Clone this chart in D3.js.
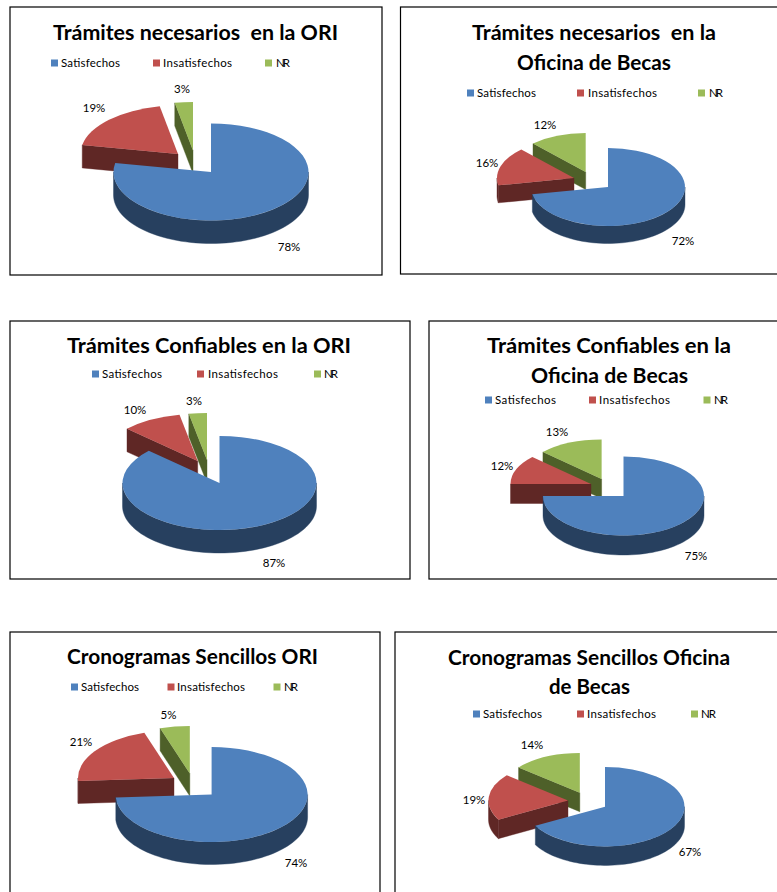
<!DOCTYPE html>
<html lang="es">
<head>
<meta charset="utf-8">
<script src="https://cdn.jsdelivr.net/npm/d3@7/dist/d3.min.js"></script>
<style>
html,body{margin:0;padding:0;background:#fff;overflow:hidden}
svg{display:block}
text{font-family:Lato,Carlito,"Open Sans",sans-serif;fill:#000}
</style>
</head>
<body>
<svg id="c" width="777" height="892"></svg>
<script>
// ---- data ----
const categories = ["Satisfechos", "Insatisfechos", "NR"];
const chartTitles = [
  ["Trámites necesarios  en la ORI"],
  ["Trámites necesarios  en la", "Oficina de Becas"],
  ["Trámites Confiables en la ORI"],
  ["Trámites Confiables en la", "Oficina de Becas"],
  ["Cronogramas Sencillos ORI"],
  ["Cronogramas Sencillos Oficina", "de Becas"]
];
const satisfechos   = [78, 72, 87, 75, 74, 67];
const insatisfechos = [19, 16, 10, 12, 21, 19];
const nr            = [ 3, 12,  3, 13,  5, 14];

// ---- styling and page layout ----
const topColors  = ["#4F81BD", "#C0504D", "#9BBB59"];
const sideColors = ["#27405F", "#5F2725", "#4E6029"];

const layout = [
  { box:[10,7,372,268], rx:97.5, ry:48.5, depth:23,
    apex:[[211,172],[178,154],[193,150.5]],
    title:[[53,338,32]],
    legend:{y:63, swatch:[51,153,265], text:[[61,59],[163,69],[276,14]]},
    labels:[[289,247],[94,108],[182,89]] },
  { box:[400.5,7,400,267], rx:77, ry:39, depth:17.5,
    apex:[[608,187],[574,178],[585.7,172]],
    title:[[472,716,32],[517,671,62]],
    legend:{y:93, swatch:[467,577,698], text:[[477,59],[588,69],[709,14]]},
    labels:[[683,241],[487,163],[545,125]] },
  { box:[10,321,400,258], rx:97, ry:47, depth:23,
    apex:[[219.5,483],[197.7,461],[207,460]],
    title:[[67,351,345]],
    legend:{y:374, swatch:[92,197,314], text:[[102,60],[208,70],[324,14]]},
    labels:[[274,563],[135,410],[194,401]] },
  { box:[429,321,400,258], rx:80.5, ry:39.5, depth:19.5,
    apex:[[623.5,496],[591,484],[601.6,479]],
    title:[[487,731,345],[531,688,375]],
    legend:{y:400, swatch:[485,589,703.5], text:[[495,61],[599,71],[714,14]]},
    labels:[[696,556],[502,466],[557,432]] },
  { box:[10,632,370,300], rx:96, ry:47.5, depth:22.5,
    apex:[[211.6,794.5],[174,778],[189.8,773.5]],
    title:[[67,318,656]],
    legend:{y:687, swatch:[71,167.5,273.5], text:[[81,58],[177,68],[284,14]]},
    labels:[[296,863],[81,742],[168.5,715]] },
  { box:[395,632,400,300], rx:79.5, ry:39.7, depth:19,
    apex:[[605,806.7],[568,800.5],[579.8,792.7]],
    title:[[448,730,657],[549,630,686]],
    legend:{y:714, swatch:[473,577,691], text:[[483,59],[587,69],[701,15]]},
    labels:[[690,852],[474,800],[532,745]] }
];

const svg = d3.select("#c");
const pie = d3.pie().value(d => d).sort(null);
const TAU = Math.PI * 2;

layout.forEach((L, i) => {
  const values = [satisfechos[i], insatisfechos[i], nr[i]];
  const arcs = pie(values);
  const g = svg.append("g");

  // frame
  g.append("rect")
    .attr("x", L.box[0]).attr("y", L.box[1])
    .attr("width", L.box[2]).attr("height", L.box[3])
    .attr("fill", "#fff").attr("stroke", "#000").attr("stroke-width", 1.2);

  // title
  chartTitles[i].forEach((line, k) => {
    const t = L.title[k];
    g.append("text")
      .attr("x", t[0]).attr("y", t[2])
      .attr("dy", "0.36em")
      .attr("font-size", 21.5).attr("font-weight", 700)
      .attr("textLength", t[1] - t[0]).attr("lengthAdjust", "spacingAndGlyphs")
      .attr("xml:space", "preserve").style("white-space", "pre")
      .text(line);
  });

  // legend
  categories.forEach((name, k) => {
    g.append("rect")
      .attr("x", L.legend.swatch[k]).attr("y", L.legend.y - 3.5)
      .attr("width", 7).attr("height", 7)
      .attr("fill", topColors[k]);
    g.append("text")
      .attr("x", L.legend.text[k][0]).attr("y", L.legend.y)
      .attr("dy", "0.36em").attr("font-size", 11.5)
      .attr("textLength", L.legend.text[k][1]).attr("lengthAdjust", "spacing")
      .attr("fill", "#111")
      .text(name);
  });

  // 3D pie: painted back to front (NR, Insatisfechos, Satisfechos)
  const px = (a, o) => o[0] + Math.sin(a) * L.rx;
  const py = (a, o) => o[1] - Math.cos(a) * L.ry;
  const arcGen = d3.arc().innerRadius(0).outerRadius(L.rx);

  [2, 1, 0].forEach(k => {
    const s = arcs[k], o = L.apex[k];
    const sl = g.append("g");

    // radial cut faces that look towards the viewer
    const faces = [];
    if (Math.sin(s.startAngle) < -1e-6) faces.push(s.startAngle);
    if (Math.sin(s.endAngle) > 1e-6) faces.push(s.endAngle);
    faces.forEach(a => {
      const quad = [
        [o[0], o[1]],
        [px(a, o), py(a, o)],
        [px(a, o), py(a, o) + L.depth],
        [o[0], o[1] + L.depth]
      ];
      sl.append("path")
        .attr("d", d3.line()(quad) + "Z")
        .attr("fill", sideColors[k]).attr("stroke", sideColors[k]).attr("stroke-width", 0.4);
    });

    // outer wall on the front half of the ellipse
    const a0 = Math.max(s.startAngle, Math.PI / 2);
    const a1 = Math.min(s.endAngle, 3 * Math.PI / 2);
    if (a1 > a0) {
      const steps = d3.range(0, 61).map(j => a0 + (a1 - a0) * j / 60);
      const wall = d3.area()
        .x(a => px(a, o))
        .y0(a => py(a, o))
        .y1(a => py(a, o) + L.depth);
      sl.append("path").attr("d", wall(steps))
        .attr("fill", sideColors[k]).attr("stroke", sideColors[k]).attr("stroke-width", 0.4);
    }

    // top face
    sl.append("path")
      .attr("d", arcGen(s))
      .attr("transform", `translate(${o[0]},${o[1]}) scale(1,${L.ry / L.rx})`)
      .attr("fill", topColors[k]);
  });

  // value labels
  values.forEach((v, k) => {
    g.append("text")
      .attr("x", L.labels[k][0]).attr("y", L.labels[k][1])
      .attr("dy", "0.36em").attr("text-anchor", "middle")
      .attr("font-size", 11.5).attr("fill", "#111")
      .text(v + "%");
  });
});
</script>
</body>
</html>
